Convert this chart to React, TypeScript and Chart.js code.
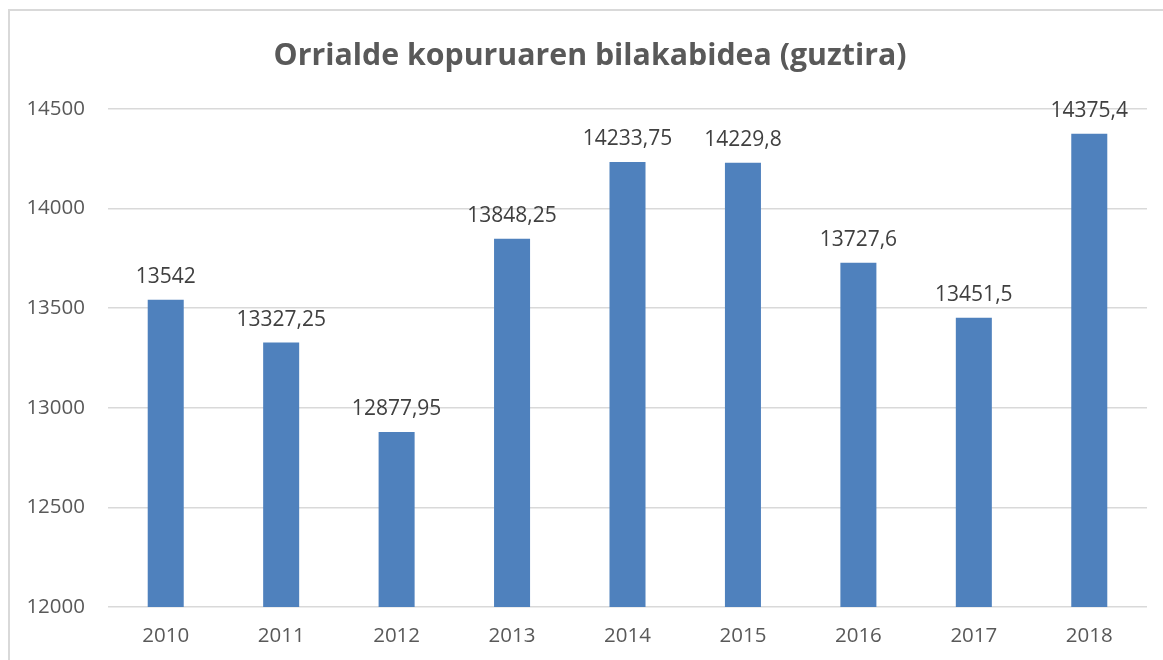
import React, { useEffect, useRef } from "react";
import { Chart, registerables } from "chart.js";

Chart.register(...registerables);

const TITLE = "Orrialde kopuruaren bilakabidea (guztira)";
const YEARS = ["2010", "2011", "2012", "2013", "2014", "2015", "2016", "2017", "2018"];
const VALUES = [13542, 13327.25, 12877.95, 13848.25, 14233.75, 14229.8, 13727.6, 13451.5, 14375.4];
const Y_MIN = 12000;
const Y_MAX = 14500;
const Y_STEP = 500;

const FONT = "'Open Sans', 'Noto Sans', sans-serif";

const fmt = (v: number) => String(v).replace(".", ",");

export default function App() {
  const ref = useRef<HTMLCanvasElement | null>(null);

  useEffect(() => {
    document.body.style.margin = "0";
    const canvas = ref.current;
    if (!canvas) return;

    const decor = {
      id: "decor",
      beforeDraw(chart: any) {
        const ctx = chart.ctx;
        ctx.save();
        ctx.fillStyle = "#ffffff";
        ctx.fillRect(0, 0, chart.width, chart.height);
        ctx.strokeStyle = "#d9d9d9";
        ctx.lineWidth = 2;
        ctx.beginPath();
        ctx.moveTo(9, chart.height);
        ctx.lineTo(9, 10);
        ctx.lineTo(chart.width, 10);
        ctx.stroke();
        ctx.restore();
      },
      afterDraw(chart: any) {
        const ctx = chart.ctx;
        ctx.save();
        ctx.fillStyle = "#595959";
        ctx.font = `bold 30.3px ${FONT}`;
        ctx.textAlign = "center";
        ctx.textBaseline = "alphabetic";
        ctx.fillText(TITLE, 590, 65);
        ctx.restore();
      },
      afterDatasetsDraw(chart: any) {
        const ctx = chart.ctx;
        const meta = chart.getDatasetMeta(0);
        ctx.save();
        ctx.fillStyle = "#404040";
        ctx.font = `21px ${FONT}`;
        ctx.textAlign = "center";
        ctx.textBaseline = "alphabetic";
        meta.data.forEach((bar: any, i: number) => {
          ctx.fillText(fmt(VALUES[i]), bar.x, bar.y - 17);
        });
        ctx.restore();
      },
    };

    const chart = new Chart(canvas, {
      type: "bar",
      data: {
        labels: YEARS,
        datasets: [
          {
            data: VALUES,
            backgroundColor: "#4f81bd",
            borderWidth: 0,
            barPercentage: 0.312,
            categoryPercentage: 1,
          },
        ],
      },
      options: {
        animation: false,
        responsive: false,
        maintainAspectRatio: false,
        layout: { padding: { top: 109, right: 16, bottom: 0, left: 0 } },
        plugins: {
          legend: { display: false },
          title: { display: false },
          tooltip: { enabled: false },
        },
        scales: {
          x: {
            grid: { display: false, drawTicks: false },
            border: { display: false },
            ticks: {
              color: "#595959",
              font: { family: FONT, size: 20.5 },
              padding: 17,
            },
            afterFit(scale: any) {
              scale.height = 53;
            },
          },
          y: {
            min: Y_MIN,
            max: Y_MAX,
            grid: { color: "#d9d9d9", lineWidth: 1.5, drawTicks: false },
            border: { display: false },
            ticks: {
              stepSize: Y_STEP,
              color: "#595959",
              font: { family: FONT, size: 20.5 },
              padding: 23,
              callback: (v: any) => String(v),
            },
            afterFit(scale: any) {
              scale.width = 108;
            },
          },
        },
      },
      plugins: [decor],
    });

    return () => chart.destroy();
  }, []);

  return (
    <div style={{ width: 1163, height: 660 }}>
      <canvas ref={ref} width={1163} height={660} style={{ display: "block" }} />
    </div>
  );
}
